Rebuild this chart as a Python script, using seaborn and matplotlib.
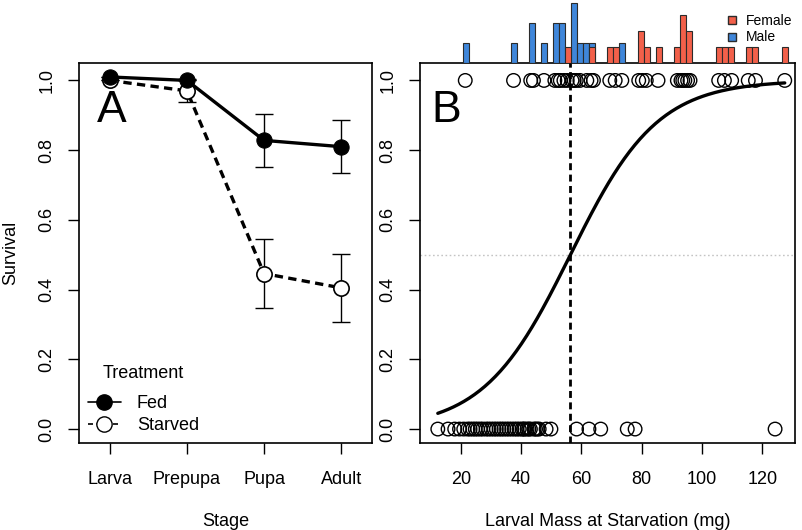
import numpy as np
import pandas as pd
import matplotlib
matplotlib.use("Agg")
import matplotlib.pyplot as plt
from matplotlib.lines import Line2D
import seaborn as sns

sns.set_style("ticks")
plt.rcParams['font.family'] = ['Liberation Sans', 'DejaVu Sans']
plt.rcParams['text.color'] = 'black'
plt.rcParams['axes.labelcolor'] = 'black'
plt.rcParams['xtick.color'] = 'black'
plt.rcParams['ytick.color'] = 'black'

# ---- Panel A: survival by stage ----
stages = ['Larva', 'Prepupa', 'Pupa', 'Adult']
fed_surv = [1.01, 1.0, 0.828, 0.81]
fed_err = [0.0, 0.0, 0.077, 0.076]
starved_surv = [1.0, 0.97, 0.446, 0.405]
starved_err = [0.0, 0.033, 0.098, 0.097]

# ---- Panel B: larval mass at starvation (mg) ----
male_mass = [21.5, 37.5, 43.2, 44.1, 47.6, 51.2, 52.3, 53.0, 54.2, 56.9,
             57.6, 58.3, 59.5, 61.8, 63.2, 73.4]
female_mass = [55.3, 64.0, 69.4, 71.2, 79.0, 80.2, 81.5, 85.4, 91.8, 93.0,
               93.6, 94.3, 95.2, 96.0, 105.5, 107.4, 109.8, 115.3, 117.7, 127.4]
dead_mass = [12.4, 15.8, 18.0, 19.6, 21.0, 22.3, 23.1, 24.0, 24.8, 25.6,
             26.5, 27.3, 28.4, 29.2, 30.1, 31.0, 31.8, 32.7, 33.5, 34.3,
             35.2, 36.0, 36.9, 37.8, 38.6, 39.4, 40.3, 40.8, 41.2, 42.0,
             42.6, 43.1, 44.3, 44.8, 45.4, 46.0, 48.3, 49.9, 58.4, 62.5,
             66.4, 75.2, 77.8, 124.2]

RED = '#F2604A'
BLUE = '#3F86DA'
EDGE = '#2b2b2b'
FS = 13

W, H = 802, 530
fig = plt.figure(figsize=(W / 100, H / 100), dpi=100)
axA = fig.add_axes([79 / W, 87 / H, 293 / W, 380 / H])
axB = fig.add_axes([420 / W, 87 / H, 375 / W, 380 / H])
axH = fig.add_axes([420 / W, 467 / H, 375 / W, 63 / H])

# --- Panel A ---
dfA = pd.DataFrame({'Stage': stages * 2,
                    'Survival': fed_surv + starved_surv,
                    'Treatment': ['Fed'] * 4 + ['Starved'] * 4})
xpos = list(range(len(stages)))
axA.errorbar(xpos, fed_surv, yerr=fed_err, fmt='none', ecolor='black',
             elinewidth=1, capsize=6.5, capthick=1, zorder=2)
axA.errorbar(xpos, starved_surv, yerr=starved_err, fmt='none', ecolor='black',
             elinewidth=1, capsize=6.5, capthick=1, zorder=2)
sns.lineplot(data=dfA[dfA['Treatment'] == 'Starved'], x='Stage', y='Survival',
             ax=axA, color='black', lw=2.4, marker='o', ms=11, mfc='white',
             mec='black', mew=1.2, linestyle=(0, (2.5, 1.6)), zorder=3)
sns.lineplot(data=dfA[dfA['Treatment'] == 'Fed'], x='Stage', y='Survival',
             ax=axA, color='black', lw=2.4, marker='o', ms=11, mfc='black',
             mec='black', zorder=4)
axA.set_xlim(-0.4, 3.4)
axA.set_ylim(-0.04, 1.05)
axA.set_xticks(xpos)
axA.set_xticklabels(stages)
axA.set_xlabel('Stage', fontsize=FS, labelpad=18)
axA.set_ylabel('Survival', fontsize=FS, labelpad=14)
axA.text(0.06, 0.845, 'A', transform=axA.transAxes, fontsize=32,
         va='baseline', ha='left')
handles = [Line2D([], [], color='black', lw=1.2, marker='o', ms=11,
                  mfc='black', mec='black'),
           Line2D([], [], color='black', lw=1.2, ls=(0, (3, 2)), marker='o',
                  ms=11, mfc='white', mec='black')]
leg = axA.legend(handles, ['Fed', 'Starved'], title='Treatment',
                 loc='lower left', frameon=False, fontsize=FS,
                 title_fontsize=FS, handlelength=1.8, handletextpad=0.9,
                 labelspacing=0.25, borderaxespad=0.2, borderpad=0.3)
leg._legend_box.sep = 9.5  # wider gap under the title

# --- Panel B ---
survived = [1] * (len(male_mass) + len(female_mass)) + [0] * len(dead_mass)
dfB = pd.DataFrame({'Mass': male_mass + female_mass + dead_mass,
                    'Survived': survived})

# logistic fit (IRLS) of survival on mass
X = np.column_stack([np.ones(len(dfB)), dfB['Mass']])
y = dfB['Survived'].to_numpy(float)
beta = np.zeros(2)
for _ in range(60):
    p = 1 / (1 + np.exp(-X @ beta))
    w = p * (1 - p)
    beta += np.linalg.solve(X.T @ (X * w[:, None]), X.T @ (y - p))
ld50 = -beta[0] / beta[1]
grid = np.linspace(dfB['Mass'].min(), dfB['Mass'].max(), 200)
fit = pd.DataFrame({'Mass': grid,
                    'p': 1 / (1 + np.exp(-(beta[0] + beta[1] * grid)))})

axB.axhline(0.5, color='#C4C4C4', lw=1, ls=(0, (1.2, 1.8)), zorder=1)
sns.scatterplot(data=dfB, x='Mass', y='Survived', ax=axB, s=95,
                facecolor='none', edgecolor='black', linewidth=1, zorder=3)
sns.lineplot(data=fit, x='Mass', y='p', ax=axB, color='black', lw=2.4,
             zorder=4)
axB.axvline(ld50, color='black', lw=2, ls=(0, (2.5, 1.6)), zorder=4)
axB.set_xlim(6.5, 130.8)
axB.set_ylim(-0.04, 1.05)
axB.set_xticks([20, 40, 60, 80, 100, 120])
axB.set_xlabel('Larval Mass at Starvation (mg)', fontsize=FS, labelpad=18)
axB.set_ylabel('')
axB.text(0.03, 0.845, 'B', transform=axB.transAxes, fontsize=32,
         va='baseline', ha='left')

for ax in (axA, axB):
    ax.set_yticks([0, 0.2, 0.4, 0.6, 0.8, 1.0])
    ax.set_yticklabels(['0.0', '0.2', '0.4', '0.6', '0.8', '1.0'],
                       rotation=90, va='center')
    ax.tick_params(axis='both', labelsize=FS, length=8, width=1,
                   color='black', labelcolor='black')
    ax.tick_params(axis='x', pad=12)
    ax.tick_params(axis='y', pad=9)
    for s in ax.spines.values():
        s.set_visible(True)
        s.set_linewidth(1.2)
        s.set_color('black')

# --- histogram of survivors by sex above panel B ---
edges = np.arange(20.6, 130.0, 2.0)
sns.histplot(x=male_mass, bins=edges, stat='density', color=BLUE, alpha=1,
             edgecolor=EDGE, linewidth=0.8, ax=axH)
sns.histplot(x=female_mass, bins=edges, stat='density', color=RED, alpha=1,
             edgecolor=EDGE, linewidth=0.8, ax=axH)
axH.set_xlim(6.5, 130.8)
axH.set_ylim(0, 0.09375 * 63 / 60)
axH.axis('off')

sex_handles = [Line2D([], [], marker='s', ls='', ms=6, mfc=RED, mec=EDGE),
               Line2D([], [], marker='s', ls='', ms=6, mfc=BLUE, mec=EDGE)]
fig.legend(sex_handles, ['Female', 'Male'], loc='upper left',
           bbox_to_anchor=(718 / W, 1 - 6 / H), frameon=False, fontsize=10,
           handlelength=0.8, handletextpad=0.6, labelspacing=0.15,
           borderpad=0.1)

fig.savefig('out.png', dpi=100)
